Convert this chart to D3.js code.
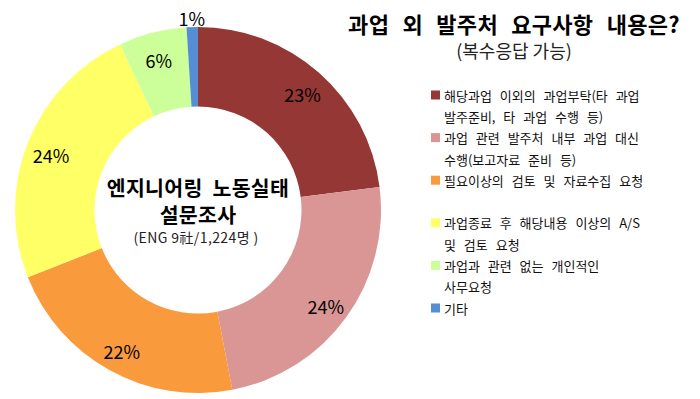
<!DOCTYPE html>
<html><head><meta charset="utf-8">
<script src="https://cdn.jsdelivr.net/npm/d3@7"></script>
<style>body{margin:0;background:#fff}svg{display:block}</style>
</head><body>
<svg id="c" width="700" height="399"></svg>
<script>
const categories = [
  ["해당과업 이외의 과업부탁(타 과업", "발주준비, 타 과업 수행 등)"],
  ["과업 관련 발주처 내부 과업 대신", "수행(보고자료 준비 등)"],
  ["필요이상의 검토 및 자료수집 요청"],
  ["과업종료 후 해당내용 이상의 A/S", "및 검토 요청"],
  ["과업과 관련 없는 개인적인", "사무요청"],
  ["기타"]
];
const values = [23, 24, 22, 24, 6, 1];
const colors = ["#953735", "#D99694", "#F99A3D", "#FFFF66", "#CCFF99", "#558ED5"];
const title = "과업 외 발주처 요구사항 내용은?";
const subtitle = "(복수응답 가능)";
const centerLines = ["엔지니어링 노동실태", "설문조사"];
const centerNote = "(ENG 9社/1,224명 )";

const svg = d3.select("#c");
const font = "'Noto Sans CJK KR','Noto Sans',sans-serif";
const cx = 198, cy = 210, R = 183, r = 103.5;

const pie = d3.pie().sort(null).value(d => d);
const arcs = pie(values);
const arc = d3.arc().innerRadius(r).outerRadius(R);
const g = svg.append("g").attr("transform", `translate(${cx},${cy})`);
g.selectAll("path").data(arcs).enter().append("path")
  .attr("d", arc).attr("fill", (d, i) => colors[i]);

const labArc = d3.arc().innerRadius(158).outerRadius(158);
const outArc = d3.arc().innerRadius(195).outerRadius(195);
g.selectAll("text.lab").data(arcs).enter().append("text")
  .attr("class", "lab")
  .attr("transform", d => `translate(${(d.data < 3 ? outArc : labArc).centroid(d)})`)
  .attr("dy", 3)
  .attr("text-anchor", "middle").attr("dominant-baseline", "central")
  .style("font-family", font).style("font-size", "18px").attr("fill", "#000")
  .text(d => d.data + "%");

// center text
g.selectAll("text.ct").data(centerLines).enter().append("text")
  .attr("class", "ct").attr("x", 0).attr("y", (d, i) => -23 + i * 27)
  .attr("text-anchor", "middle").attr("dominant-baseline", "central")
  .style("font-family", font).style("font-size", "20.5px").style("font-weight", "bold")
  .style("word-spacing", "5px").style("letter-spacing", "0.3px")
  .text(d => d);
g.append("text").attr("x", -2).attr("y", 27)
  .attr("text-anchor", "middle").attr("dominant-baseline", "central")
  .style("font-family", font).style("font-size", "14px").style("letter-spacing", "0.4px")
  .attr("fill", "#222")
  .text(centerNote);

// title
svg.append("text").attr("x", 514).attr("y", 22.5)
  .attr("text-anchor", "middle").attr("dominant-baseline", "central")
  .style("font-family", font).style("font-size", "22px").style("font-weight", "bold")
  .style("word-spacing", "8px").style("letter-spacing", "0.3px")
  .text(title);
svg.append("text").attr("x", 514).attr("y", 50)
  .attr("text-anchor", "middle").attr("dominant-baseline", "central")
  .style("font-family", font).style("font-size", "18px").attr("fill", "#222")
  .text(subtitle);

// legend
const lg = svg.append("g");
const items = lg.selectAll("g").data(categories).enter().append("g")
  .attr("transform", (d, i) => `translate(431,${95 + i * 42.6})`);
items.append("rect").attr("x", 0).attr("y", -4.5).attr("width", 9).attr("height", 9)
  .attr("fill", (d, i) => colors[i]);
items.selectAll("text").data(d => d).enter().append("text")
  .attr("x", 13).attr("y", (d, j) => j * 21.5)
  .attr("dominant-baseline", "central")
  .style("font-family", font).style("font-size", "13px").style("word-spacing", "5px")
  .attr("fill", "#111")
  .text(d => d);
</script>
</body></html>
